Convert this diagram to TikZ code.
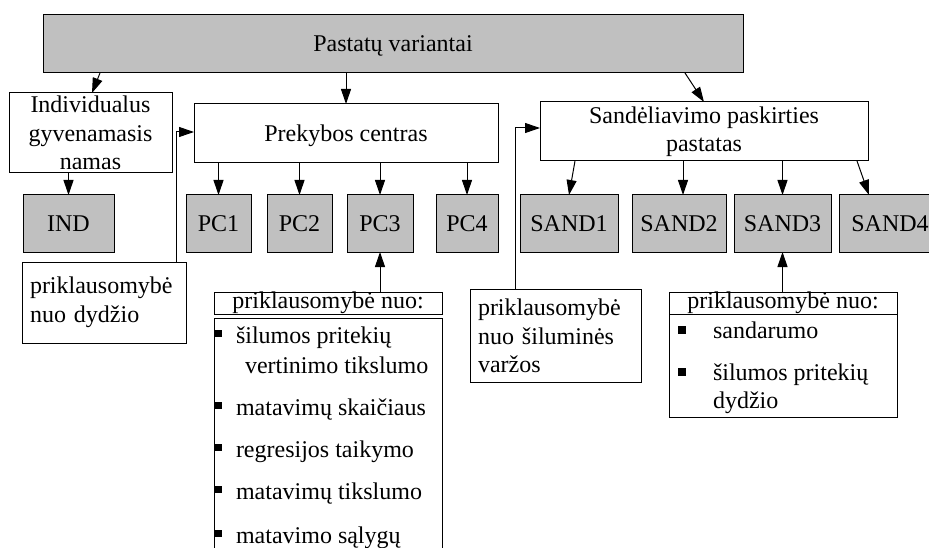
\documentclass[tikz,border=0pt]{standalone}
\usepackage{fontspec}
\setmainfont{Liberation Serif}
\usetikzlibrary{arrows.meta}
\definecolor{boxgray}{HTML}{C0C0C0}
\begin{document}
\begin{tikzpicture}[x=1pt,y=-1pt,
  every node/.style={font=\fontsize{24pt}{28.5pt}\selectfont, inner sep=0pt, outer sep=0pt},
  box/.style={draw, line width=1pt, fill=white},
  onerow/.style={text height=16pt, text depth=0pt},
  graybox/.style={box, fill=boxgray, onerow},
  arr/.style={line width=1pt, -{Triangle[length=15pt,width=10pt]}},
  link/.style={line width=1pt},
  bul/.style={fill=black, minimum size=7pt, inner sep=0pt},
  item/.style={anchor=base west}
]
\useasboundingbox (0,0) rectangle (929,548);

% top level
\node[graybox, minimum width=700pt, minimum height=58pt] (top) at (393,44) {Pastatų variantai};

% building groups
\node[box, minimum width=163pt, minimum height=80pt, align=center] (ind) at (90.5,133)
  {Individualus\\gyvenamasis\\namas};
\node[box, onerow, minimum width=304pt, minimum height=59pt] (pc) at (346,133.5) {Prekybos centras};
\node[box, minimum width=328pt, minimum height=59pt, align=center] (sand) at (704,131.5)
  {Sandėliavimo paskirties\\pastatas};

% variants
\node[graybox, minimum width=91pt, minimum height=57pt] (IND) at (68.5,223.5) {IND};
\node[graybox, minimum width=65pt, minimum height=57pt] (pc1) at (218.5,223.5) {PC1};
\node[graybox, minimum width=65pt, minimum height=57pt] (pc2) at (299.5,223.5) {PC2};
\node[graybox, minimum width=66pt, minimum height=57pt] (pc3) at (380,223.5) {PC3};
\node[graybox, minimum width=62pt, minimum height=57pt] (pc4) at (467,223.5) {PC4};
\node[graybox, minimum width=98pt, minimum height=57pt] (sand1) at (569,223.5) {SAND1};
\node[graybox, minimum width=94pt, minimum height=57pt] (sand2) at (679,223.5) {SAND2};
\node[graybox, minimum width=97pt, minimum height=57pt] (sand3) at (782.5,223.5) {SAND3};
\node[graybox, minimum width=102pt, minimum height=57pt] (sand4) at (890,223.5) {SAND4};

% dependency notes
\node[box, minimum width=164pt, minimum height=81pt, text width=148pt, align=left] (dep1) at (104,302.5)
  {priklausomybė\\nuo dydžio};
\node[box, minimum width=171pt, minimum height=93pt, text width=155pt, align=left] (dep2) at (555.5,336)
  {priklausomybė\\nuo šiluminės\\varžos};

% PC3 factor list
\node[box, minimum width=228pt, minimum height=22pt] (list1head) at (328,303) {priklausomybė nuo:};
\node[box, minimum width=228pt, minimum height=282pt] (list1body) at (328,459) {};
\node[bul] (b11) at (218.5,333.5) {};
\node[item] (t11) at (236,343) {šilumos pritekių};
\node[item] (t11b) at (245,373) {vertinimo tikslumo};
\node[bul] (b12) at (218.5,405.5) {};
\node[item] (t12) at (236,415) {matavimų skaičiaus};
\node[bul] (b13) at (218.5,447.5) {};
\node[item] (t13) at (236,457) {regresijos taikymo};
\node[bul] (b14) at (218.5,489.5) {};
\node[item] (t14) at (236,499) {matavimų tikslumo};
\node[bul] (b15) at (218.5,533.5) {};
\node[item] (t15) at (236,543) {matavimo sąlygų};

% SAND3 factor list
\node[box, minimum width=228pt, minimum height=22pt] (list2head) at (783,303) {priklausomybė nuo:};
\node[box, minimum width=228pt, minimum height=103pt] (list2body) at (783,365.5) {};
\node[bul, minimum size=8pt] (b21) at (682,330) {};
\node[item] (t21) at (713,338) {sandarumo};
\node[bul, minimum size=8pt] (b22) at (682,371.5) {};
\node[item] (t22) at (713,380) {šilumos pritekių};
\node[item] (t22b) at (713,408) {dydžio};
\draw[line width=1pt] (list2head.south west) -- (list2head.south east);

% connectors
\draw[arr] (top.south -| 100,0) -- (ind.north -| 92,0);
\draw[arr] (top.south -| pc.north) -- (pc.north);
\draw[arr] (top.south -| 685,0) -- (sand.north -| 704,0);
\draw[arr] (ind.south -| IND.north) -- (IND.north);
\foreach \n in {pc1,pc2,pc3,pc4}
  \draw[arr] (pc.south -| \n.north) -- (\n.north);
\draw[arr] (sand.south -| 575,0) -- (sand1.north -| 569,0);
\draw[arr] (sand.south -| 683,0) -- (sand2.north -| 683,0);
\draw[arr] (sand.south -| sand3.north) -- (sand3.north);
\draw[arr] (sand.south -| 857,0) -- (sand4.north -| 869,0);
\draw[arr] (dep1.north -| 176,0) |- ([yshift=1.5pt]pc.west);
\draw[arr] (dep2.north -| 515,0) |- ([yshift=3.5pt]sand.west);
\draw[arr] (list1head.north -| pc3.south) -- (pc3.south);
\draw[arr] (list2head.north -| sand3.south) -- (sand3.south);
\end{tikzpicture}
\end{document}
